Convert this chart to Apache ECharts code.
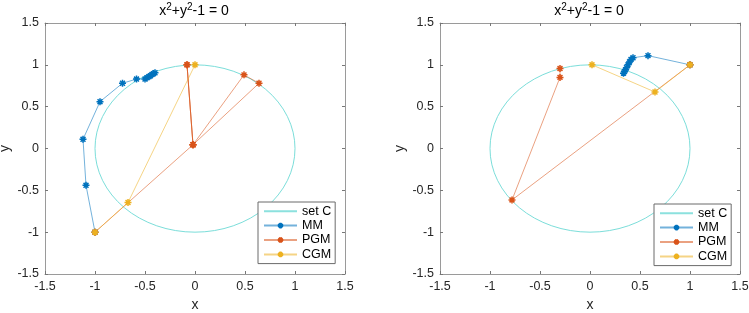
<!DOCTYPE html>
<html>
<head>
<meta charset="utf-8">
<script src="https://cdn.jsdelivr.net/npm/echarts@6/dist/echarts.min.js"></script>
<style>
  html, body { margin: 0; padding: 0; background: #fff; }
  #main { width: 749px; height: 313px; }
</style>
</head>
<body>
<div id="main"></div>
<script>
// axis ticks (both panels, both axes)
const ticks = [-1.5, -1, -0.5, 0, 0.5, 1, 1.5];
// set C: centre x, centre y, radius
const setC = [0, 0, 1];

// left panel iterates
const leftMM = [[-1, -1], [-1.09, -0.44], [-1.12, 0.11], [-0.95, 0.56], [-0.725, 0.78], [-0.585, 0.83],
  [-0.5, 0.83], [-0.48, 0.845], [-0.46, 0.86], [-0.445, 0.87], [-0.43, 0.885], [-0.415, 0.895], [-0.4, 0.905]];
const leftPGM = [[-1, -1], [-0.02, 0.045], [0.64, 0.78], [0.49, 0.88], [-0.02, 0.045], [-0.08, 1.0], [-0.02, 0.045], [-0.08, 1.0]];
const leftCGM = [[-1, -1], [-0.67, -0.645], [0, 1.0]];

// right panel iterates
const rightMM = [[1, 1], [0.58, 1.11], [0.43, 1.085], [0.41, 1.065], [0.395, 1.035], [0.38, 1.0],
  [0.365, 0.965], [0.355, 0.94], [0.345, 0.92], [0.335, 0.9]];
const rightPGM = [[1, 1], [-0.78, -0.615], [-0.3, 0.85], [-0.3, 0.955]];
const rightCGM = [[1, 1], [0.65, 0.675], [0.02, 1.0]];

const FONT = '"Liberation Sans", Arial, sans-serif';
const colors = { C: '#6fdad6', MM: '#0072bd', PGM: '#d95319', CGM: '#edb120' };
const star = 'path://M5 0L5 10M0 5L10 5M1.5 1.5L8.5 8.5M8.5 1.5L1.5 8.5';

const chart = echarts.init(document.getElementById('main'));

const grids = [
  { left: 45, top: 23, width: 300, height: 251, outerBoundsMode: 'none', containLabel: false },
  { left: 440, top: 23, width: 300, height: 251, outerBoundsMode: 'none', containLabel: false }
];

function axisPair(dim, gi) {
  const base = {
    gridIndex: gi, type: 'value',
    min: ticks[0], max: ticks[ticks.length - 1], interval: 0.5,
    splitLine: { show: false },
    axisLine: { show: true, onZero: false, lineStyle: { color: '#9a9a9a', width: 1 } },
    axisTick: { show: true, inside: true, length: 3, lineStyle: { color: '#777' } }
  };
  const main = Object.assign({}, base, {
    position: dim === 'x' ? 'bottom' : 'left',
    name: dim, nameLocation: 'middle',
    nameGap: dim === 'x' ? 23 : 33,
    nameTextStyle: { fontFamily: FONT, fontSize: 14, color: '#262626' },
    axisLabel: { fontFamily: FONT, fontSize: 12.5, color: '#262626', margin: 6 }
  });
  const other = Object.assign({}, base, {
    position: dim === 'x' ? 'top' : 'right',
    axisLabel: { show: false }
  });
  return [main, other];
}

function lineSeries(name, data, gi) {
  return {
    name: name + gi, type: 'line', data: data,
    xAxisIndex: gi * 2, yAxisIndex: gi * 2,
    symbol: star, symbolSize: 7,
    itemStyle: { color: colors[name], borderColor: colors[name], borderWidth: 1.5 },
    lineStyle: { color: colors[name], width: 1, opacity: 0.55 },
    animation: false
  };
}

function circleSeries(gi) {
  return {
    name: 'circle' + gi, type: 'custom',
    xAxisIndex: gi * 2, yAxisIndex: gi * 2,
    data: [setC], encode: { x: 0, y: 1 }, clip: true, silent: true,
    renderItem: function (params, api) {
      const c = api.coord([api.value(0), api.value(1)]);
      const r = api.value(2);
      const e = api.coord([api.value(0) + r, api.value(1) + r]);
      const rx = e[0] - c[0], ry = c[1] - e[1];
      return {
        type: 'circle',
        shape: { cx: c[0], cy: c[1], r: rx },
        originX: c[0], originY: c[1], scaleY: ry / rx,
        style: { fill: 'none', stroke: colors.C, lineWidth: 1, strokeNoScale: true }
      };
    },
    animation: false
  };
}

function legendBox(gi, left, top) {
  return {
    orient: 'vertical', left: left, top: top,
    data: [
      { name: 'set C' + gi, itemStyle: { opacity: 0 } },
      'MM' + gi, 'PGM' + gi, 'CGM' + gi
    ],
    formatter: n => n.slice(0, -1),
    itemWidth: 33, itemHeight: 7, itemGap: 0,
    padding: [2, 4, 2, 5],
    backgroundColor: '#fff', borderColor: '#6b6b6b', borderWidth: 1,
    textStyle: { fontFamily: FONT, fontSize: 12.5, color: '#000', lineHeight: 14.4 },
    selectedMode: false
  };
}

const xAxes = [], yAxes = [], series = [];
[0, 1].forEach(gi => {
  xAxes.push(...axisPair('x', gi));
  yAxes.push(...axisPair('y', gi));
});

const panels = [[leftMM, leftPGM, leftCGM], [rightMM, rightPGM, rightCGM]];
panels.forEach((p, gi) => {
  series.push(circleSeries(gi));
  series.push({
    name: 'set C' + gi, type: 'line', data: [], xAxisIndex: gi * 2, yAxisIndex: gi * 2,
    symbol: 'none', lineStyle: { color: colors.C, width: 2, opacity: 0.8 }, itemStyle: { color: colors.C }
  });
  ['MM', 'PGM', 'CGM'].forEach((n, k) => series.push(lineSeries(n, p[k], gi)));
});

const titleStyle = {
  fontFamily: FONT, fontSize: 14, fontWeight: 'normal', color: '#000', lineHeight: 18,
  rich: { s: { fontFamily: FONT, fontSize: 10, verticalAlign: 'top', lineHeight: 18 } }
};

const option = {
  animation: false,
  title: [
    { text: 'x{s|2}+y{s|2}-1 = 0', left: 194, top: 2, textAlign: 'center', textStyle: titleStyle, padding: 0 },
    { text: 'x{s|2}+y{s|2}-1 = 0', left: 589, top: 2, textAlign: 'center', textStyle: titleStyle, padding: 0 }
  ],
  grid: grids,
  xAxis: xAxes,
  yAxis: yAxes,
  legend: [legendBox(0, 258, 202), legendBox(1, 654, 204)],
  series: series
};

chart.setOption(option);
</script>
</body>
</html>
